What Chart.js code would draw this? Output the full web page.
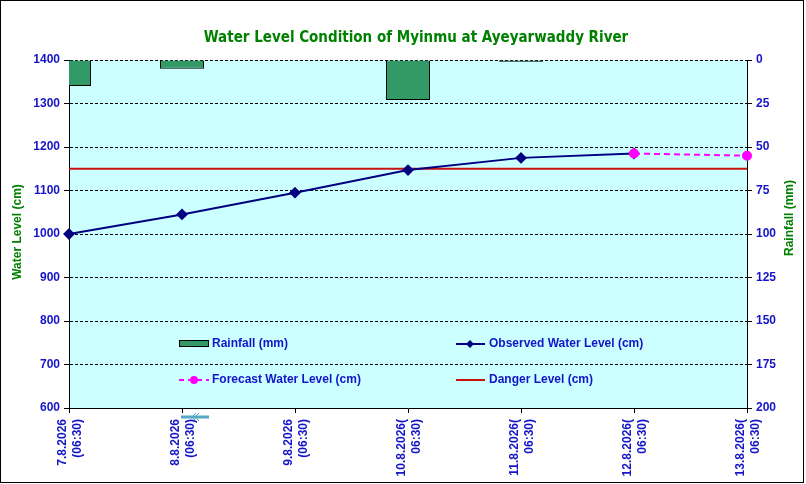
<!DOCTYPE html>
<html>
<head>
<meta charset="utf-8">
<script src="https://cdn.jsdelivr.net/npm/chart.js@4"></script>
<style>
  body { margin: 0; background: #fff; }
  canvas { display: block; }
</style>
</head>
<body>
<canvas id="myChart" width="806" height="484"></canvas>
<script>
// data
const dates = [
    ["7.8.2026", "(06:30)"],
    ["8.8.2026", "(06:30)"],
    ["9.8.2026", "(06:30)"],
    ["10.8.2026(", "06:30)"],
    ["11.8.2026(", "06:30)"],
    ["12.8.2026(", "06:30)"],
    ["13.8.2026(", "06:30)"]
]
const rainfall = [15, 5, 0, 23, 1, 0, 0]
const observedLevel = [1000, 1045, 1095, 1147, 1175, 1185, null]
const forecastLevel = [null, null, null, null, null, 1185, 1180]
const dangerLevel = [1150, 1150, 1150, 1150, 1150, 1150, 1150]

const blue = "#1414c8"
const green = "#008000"

// background, frame, title, axis titles and legend
const decorations = {
    id: "decorations",
    beforeDraw(chart) {
        const { ctx, chartArea: a } = chart
        ctx.save()
        ctx.fillStyle = "#ffffff"
        ctx.fillRect(0, 0, chart.width, chart.height)
        ctx.fillStyle = "#ccffff"
        ctx.fillRect(a.left, a.top, a.right - a.left, a.bottom - a.top)
        ctx.restore()
    },
    afterDraw(chart) {
        const ctx = chart.ctx
        ctx.save()
        ctx.strokeStyle = "#000"
        ctx.lineWidth = 1
        ctx.strokeRect(0.5, 0.5, 803, 482)

        ctx.fillStyle = green
        ctx.font = "bold 15px 'DejaVu Sans Condensed'"
        ctx.textAlign = "center"
        ctx.textBaseline = "middle"
        ctx.fillText("Water Level Condition of Myinmu at Ayeyarwaddy River", 416, 38)

        ctx.font = "bold 12px 'Liberation Sans'"
        ctx.save()
        ctx.translate(18, 232)
        ctx.rotate(-Math.PI / 2)
        ctx.fillText("Water Level (cm)", 0, 0)
        ctx.restore()
        ctx.save()
        ctx.translate(790, 218)
        ctx.rotate(-Math.PI / 2)
        ctx.fillText("Rainfall (mm)", 0, 0)
        ctx.restore()

        // legend
        ctx.textAlign = "left"
        ctx.fillStyle = blue
        ctx.fillText("Rainfall (mm)", 212, 344)
        ctx.fillText("Observed Water Level (cm)", 489, 344)
        ctx.fillText("Forecast Water Level (cm)", 212, 380)
        ctx.fillText("Danger Level (cm)", 489, 380)

        ctx.fillStyle = "#339966"
        ctx.fillRect(179.5, 340.5, 29, 6)
        ctx.strokeRect(179.5, 340.5, 29, 6)

        ctx.strokeStyle = "#000080"
        ctx.lineWidth = 2
        ctx.beginPath()
        ctx.moveTo(456, 344)
        ctx.lineTo(485, 344)
        ctx.stroke()
        ctx.fillStyle = "#000080"
        ctx.beginPath()
        ctx.moveTo(470, 340)
        ctx.lineTo(474, 344)
        ctx.lineTo(470, 348)
        ctx.lineTo(466, 344)
        ctx.closePath()
        ctx.fill()

        ctx.strokeStyle = "#ff00ff"
        ctx.setLineDash([5, 4])
        ctx.beginPath()
        ctx.moveTo(179, 380)
        ctx.lineTo(209, 380)
        ctx.stroke()
        ctx.setLineDash([])
        ctx.fillStyle = "#ff00ff"
        ctx.beginPath()
        ctx.arc(194, 380, 4, 0, Math.PI * 2)
        ctx.fill()

        ctx.strokeStyle = "#cc1111"
        ctx.beginPath()
        ctx.moveTo(456, 380)
        ctx.lineTo(485, 380)
        ctx.stroke()

        // small stray arrow under the 8.8 tick
        ctx.strokeStyle = "#55a8c8"
        ctx.lineWidth = 3
        ctx.beginPath()
        ctx.moveTo(181, 417)
        ctx.lineTo(209, 417)
        ctx.stroke()
        ctx.lineWidth = 1
        ctx.beginPath()
        ctx.moveTo(196, 413)
        ctx.lineTo(192, 417)
        ctx.lineTo(196, 421)
        ctx.moveTo(199, 413)
        ctx.lineTo(195, 417)
        ctx.lineTo(199, 421)
        ctx.stroke()
        ctx.restore()
    }
}

const tickFont = { family: "'Liberation Sans', Arial", size: 12, weight: "bold" }
const plainNumber = (value) => String(value)

const ctx = document.getElementById("myChart")
new Chart(ctx, {
    data: {
        labels: dates,
        datasets: [
            {
                type: "line",
                label: "Observed Water Level (cm)",
                data: observedLevel,
                yAxisID: "y",
                borderColor: "#000080",
                backgroundColor: "#000080",
                borderWidth: 2,
                pointStyle: "rectRot",
                pointRadius: 4.5,
                tension: 0,
                order: 2
            },
            {
                type: "line",
                label: "Forecast Water Level (cm)",
                data: forecastLevel,
                yAxisID: "y",
                borderColor: "#ff00ff",
                backgroundColor: "#ff00ff",
                borderWidth: 2,
                borderDash: [6, 4],
                pointRadius: 4,
                tension: 0,
                order: 1
            },
            {
                type: "line",
                label: "Danger Level (cm)",
                data: dangerLevel,
                yAxisID: "y",
                borderColor: "#cc1111",
                borderWidth: 2,
                pointRadius: 0,
                order: 3
            },
            {
                type: "bar",
                label: "Rainfall (mm)",
                data: rainfall,
                yAxisID: "y1",
                backgroundColor: "#339966",
                borderColor: "#000",
                borderWidth: 1,
                barPercentage: 0.39,
                categoryPercentage: 1,
                clip: 0,
                order: 10
            }
        ]
    },
    options: {
        responsive: false,
        animation: false,
        devicePixelRatio: 1,
        layout: { padding: { top: 60 } },
        plugins: {
            legend: { display: false },
            tooltip: { enabled: false }
        },
        scales: {
            x: {
                offset: false,
                grid: { offset: false, drawOnChartArea: false, tickLength: 5, color: "#000" },
                border: { color: "#000", width: 1 },
                ticks: {
                    autoSkip: false,
                    maxRotation: 90,
                    minRotation: 90,
                    color: blue,
                    font: tickFont,
                    padding: 6,
                    labelOffset: -6
                },
                afterFit(scale) { scale.height = 76 }
            },
            y: {
                position: "left",
                min: 600,
                max: 1400,
                ticks: { stepSize: 100, color: blue, font: tickFont, padding: 4, callback: plainNumber },
                grid: {
                    color: "#000",
                    tickBorderDash: [],
                    tickColor: "#000",
                    tickLength: 5
                },
                border: { color: "#000", width: 1, dash: [3, 2] },
                afterFit(scale) { scale.width = 69 }
            },
            y1: {
                position: "right",
                reverse: true,
                min: 0,
                max: 200,
                ticks: { stepSize: 25, color: blue, font: tickFont, padding: 4, callback: plainNumber },
                grid: { drawOnChartArea: false, color: "#000", tickLength: 5 },
                border: { color: "#000", width: 1 },
                afterFit(scale) { scale.width = 59 }
            }
        }
    },
    plugins: [decorations]
})
</script>
</body>
</html>
